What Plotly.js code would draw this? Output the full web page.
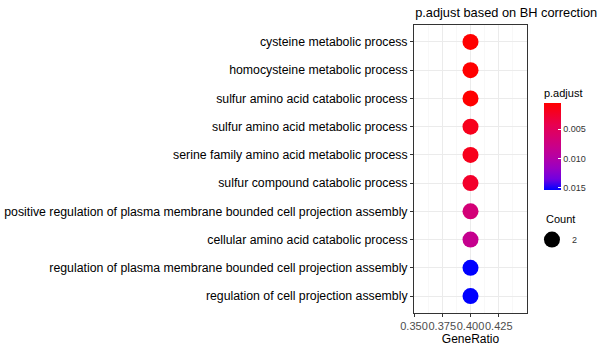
<!DOCTYPE html>
<html><head><meta charset="utf-8">
<script src="https://cdn.plot.ly/plotly-3.0.1.min.js"></script>
<style>body{margin:0}#chart{width:600px;height:350px}</style>
</head><body><div id="chart"></div>
<script>
const terms = [
  "cysteine metabolic process",
  "homocysteine metabolic process",
  "sulfur amino acid catabolic process",
  "sulfur amino acid metabolic process",
  "serine family amino acid metabolic process",
  "sulfur compound catabolic process",
  "positive regulation of plasma membrane bounded cell projection assembly",
  "cellular amino acid catabolic process",
  "regulation of plasma membrane bounded cell projection assembly",
  "regulation of cell projection assembly"
];
const geneRatio = [0.4,0.4,0.4,0.4,0.4,0.4,0.4,0.4,0.4,0.4];
const pAdjust = [0.0005,0.0005,0.0005,0.0018,0.0018,0.0025,0.0068,0.0083,0.0154,0.0154];
const counts = [2,2,2,2,2,2,2,2,2,2];
const cbTicks = [0.005,0.010,0.015];
const cbTickText = ["0.005","0.010","0.015"];

const font = "Liberation Sans, Arial, sans-serif";
const cmin = Math.min(...pAdjust), cmax = Math.max(...pAdjust);

const traces = [{
  type: "scatter", mode: "markers",
  x: geneRatio, y: terms,
  showlegend: false,
  hoverinfo: "skip",
  marker: {
    size: counts.map(c => c * 8),
    opacity: 1,
    color: pAdjust.map(v => -v),
    cmin: -cmax, cmax: -cmin,
    colorscale: [[0,"#0000FF"],[0.125,"#7100E0"],[0.25,"#9900C3"],[0.375,"#B500A5"],[0.5,"#C90089"],[0.75,"#E80050"],[1,"#FF0000"]],
    line: {width: 0},
    colorbar: {
      x: 1.150, xanchor: "left", xref: "paper",
      y: 0.427, yanchor: "bottom",
      thickness: 17, thicknessmode: "pixels",
      len: 104, lenmode: "pixels",
      outlinewidth: 0,
      tickvals: cbTicks.map(v => -v), ticktext: cbTickText,
      ticks: "inside", ticklen: 3, tickcolor: "#ffffff",
      tickfont: {family: font, size: 9, color: "#333"},
      title: {text: "p.adjust", side: "top", font: {family: font, size: 11, color: "#000"}},
      xpad: 0, ypad: 0
    }
  }
},{
  type: "scatter", mode: "markers",
  x: [null], y: [null],
  name: String(counts[0]),
  showlegend: true,
  marker: {size: counts[0] * 8, color: "#000", opacity: 1}
}];

const layout = {
  width: 600, height: 350,
  margin: {l: 414, r: 73, t: 25, b: 37, autoexpand: false},
  paper_bgcolor: "#fff", plot_bgcolor: "#fff",
  font: {family: font, color: "#000"},
  title: {text: "p.adjust based on BH correction", x: 0.01, xref: "paper", xanchor: "left",
          y: 0.965, yanchor: "middle", font: {family: font, size: 12.8, color: "#000"}},
  xaxis: {
    range: [0.35, 0.45],
    tickvals: [0.35, 0.375, 0.4, 0.425],
    ticktext: ["0.350","0.375","0.400","0.425"],
    tickangle: 0,
    ticks: "outside", ticklen: 3, tickcolor: "#333",
    tickfont: {family: font, size: 11, color: "#4D4D4D"},
    showgrid: true, gridcolor: "#EBEBEB", gridwidth: 1,
    minor: {tickvals: [0.3625, 0.3875, 0.4125, 0.4375], showgrid: true, gridcolor: "#F4F4F4", gridwidth: 0.6, ticks: ""},
    zeroline: false,
    showline: true, mirror: true, linecolor: "#333", linewidth: 1,
    title: {text: "GeneRatio", font: {family: font, size: 12, color: "#000"}, standoff: 2}
  },
  yaxis: {
    type: "category",
    categoryorder: "array", categoryarray: terms.slice().reverse(),
    range: [-0.6, 9.6],
    ticks: "outside", ticklen: 3, tickcolor: "#333",
    tickfont: {family: font, size: 12.3, color: "#000"},
    showgrid: true, gridcolor: "#EBEBEB", gridwidth: 1,
    zeroline: false,
    showline: true, mirror: true, linecolor: "#333", linewidth: 1,
    automargin: false
  },
  legend: {
    x: 1.044, xanchor: "left", y: 0.255, yanchor: "middle",
    font: {family: font, size: 9, color: "#333"},
    bgcolor: "rgba(0,0,0,0)", itemsizing: "trace", itemwidth: 30, tracegroupgap: 0
  },
  annotations: [{
    text: "Count", xref: "paper", yref: "paper", x: 1.150, y: 0.325,
    xanchor: "left", yanchor: "middle", showarrow: false,
    font: {family: font, size: 11, color: "#000"}
  }],
  showlegend: true
};

Plotly.newPlot("chart", traces, layout, {displayModeBar: false, staticPlot: true});
</script></body></html>
